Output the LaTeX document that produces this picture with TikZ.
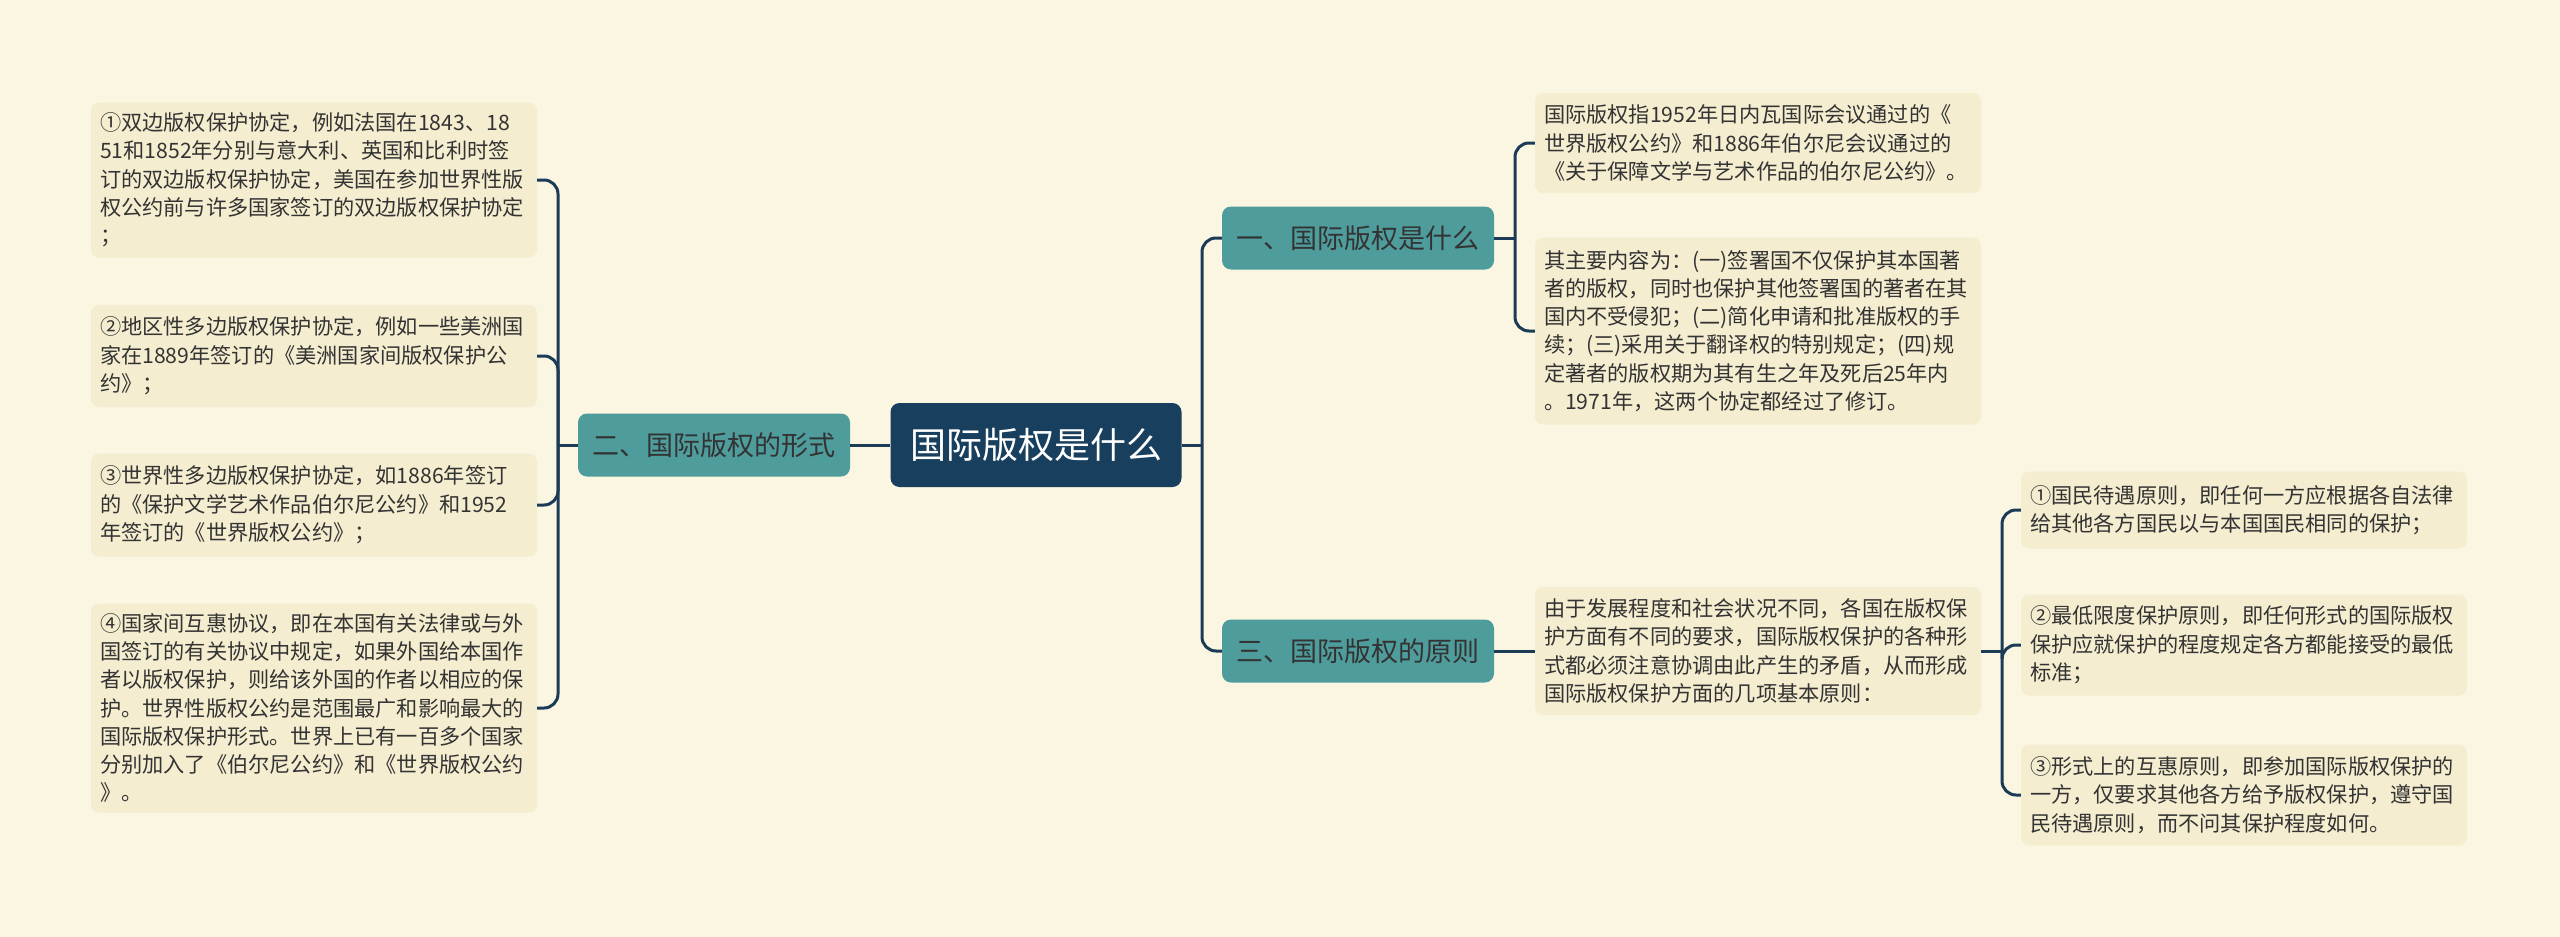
\documentclass[tikz,border=0pt]{standalone}
\usepackage{fontspec}
\setmainfont{Noto Sans CJK SC}
\usepackage{xcolor}
\usepackage{tikz}
\definecolor{Bg}{RGB}{250,246,225}
\definecolor{LeafBg}{RGB}{244,237,208}
\definecolor{Teal}{RGB}{79,156,156}
\definecolor{Navy}{RGB}{24,64,94}
\definecolor{Wire}{RGB}{28,59,87}
\definecolor{Ink}{RGB}{51,51,51}

\begin{document}
\begin{tikzpicture}[x=1pt, y=-1pt,
    link/.style={Wire, line width=3pt},
    rootbox/.style={fill=Navy, text=white, rounded corners=9pt, minimum width=291pt, minimum height=84pt,
      font=\fontsize{36}{40}\selectfont},
    topicbox/.style={fill=Teal, text=Ink, rounded corners=9pt, minimum width=272pt, minimum height=63pt,
      font=\fontsize{27}{30}\selectfont},
    leafbox/.style={fill=LeafBg, text=Ink, rounded corners=8pt, text width=428pt, inner xsep=9pt,
      inner ysep=4pt, align=left, font=\fontsize{21.2}{28.3}\selectfont}]

    %% Canvas
    \fill[Bg] (0,0) rectangle (2560,937);
    \useasboundingbox (0,0) rectangle (2560,937);

    %% --- Centre and topics ---
    \node[rootbox] (root) at (1036,445) {国际版权是什么};
    \node[topicbox] (forms) at (714,445) {二、国际版权的形式};
    \node[topicbox] (what) at (1358,238) {一、国际版权是什么};
    \node[topicbox] (rules) at (1358,651) {三、国际版权的原则};

    %% --- Left leaves (forms) ---
    \node[leafbox, minimum height=155pt] (f1) at (314,180) {①双边版权保护协定，例如法国在1843、18\\
      51和1852年分别与意大利、英国和比利时签\\
      订的双边版权保护协定，美国在参加世界性版\\
      权公约前与许多国家签订的双边版权保护协定\\
      ；};
    \node[leafbox, minimum height=102pt] (f2) at (314,356) {②地区性多边版权保护协定，例如一些美洲国\\
      家在1889年签订的《美洲国家间版权保护公\\
      约》；};
    \node[leafbox, minimum height=103pt] (f3) at (314,505) {③世界性多边版权保护协定，如1886年签订\\
      的《保护文学艺术作品伯尔尼公约》和1952\\
      年签订的《世界版权公约》；};
    \node[leafbox, minimum height=209pt] (f4) at (314,708) {④国家间互惠协议，即在本国有关法律或与外\\
      国签订的有关协议中规定，如果外国给本国作\\
      者以版权保护，则给该外国的作者以相应的保\\
      护。世界性版权公约是范围最广和影响最大的\\
      国际版权保护形式。世界上已有一百多个国家\\
      分别加入了《伯尔尼公约》和《世界版权公约\\
      》。};

    %% --- Right leaves (what) ---
    \node[leafbox, minimum height=100pt] (w1) at (1758,143) {国际版权指1952年日内瓦国际会议通过的《\\
      世界版权公约》和1886年伯尔尼会议通过的\\
      《关于保障文学与艺术作品的伯尔尼公约》。};
    \node[leafbox, minimum height=187pt] (w2) at (1758,331) {其主要内容为：(一)签署国不仅保护其本国著\\
      者的版权，同时也保护其他签署国的著者在其\\
      国内不受侵犯；(二)简化申请和批准版权的手\\
      续；(三)采用关于翻译权的特别规定；(四)规\\
      定著者的版权期为其有生之年及死后25年内\\
      。1971年，这两个协定都经过了修订。};

    %% --- Right leaves (rules) ---
    \node[leafbox, minimum height=128pt] (r0) at (1758,651) {由于发展程度和社会状况不同，各国在版权保\\
      护方面有不同的要求，国际版权保护的各种形\\
      式都必须注意协调由此产生的矛盾，从而形成\\
      国际版权保护方面的几项基本原则：};
    \node[leafbox, minimum height=77pt] (r1) at (2244,510) {①国民待遇原则，即任何一方应根据各自法律\\
      给其他各方国民以与本国国民相同的保护；};
    \node[leafbox, minimum height=101pt] (r2) at (2244,645) {②最低限度保护原则，即任何形式的国际版权\\
      保护应就保护的程度规定各方都能接受的最低\\
      标准；};
    \node[leafbox, minimum height=101pt] (r3) at (2244,795) {③形式上的互惠原则，即参加国际版权保护的\\
      一方，仅要求其他各方给予版权保护，遵守国\\
      民待遇原则，而不问其保护程度如何。};

    %% --- Junctions ---
    \coordinate (jf) at (558,445);
    \coordinate (jroot) at (1202,445);
    \coordinate (jw) at (1515,238);
    \coordinate (jr) at (2002,651);

    %% --- Connectors ---
    \draw[link] (root.west) -- (forms.east);
    \draw[link] (forms.west) -- (jf);
    \foreach \n in {f1,f2,f3,f4}
        \draw[link, rounded corners=14pt] (jf) |- (\n.east);

    \draw[link] (root.east) -- (jroot);
    \foreach \n in {what,rules}
        \draw[link, rounded corners=14pt] (jroot) |- (\n.west);

    \draw[link] (what.east) -- (jw);
    \foreach \n in {w1,w2}
        \draw[link, rounded corners=14pt] (jw) |- (\n.west);

    \draw[link] (rules.east) -- (r0.west);
    \draw[link] (r0.east) -- (jr);
    \foreach \n in {r1,r2,r3}
        \draw[link, rounded corners=14pt] (jr) |- (\n.west);

\end{tikzpicture}
\end{document}
